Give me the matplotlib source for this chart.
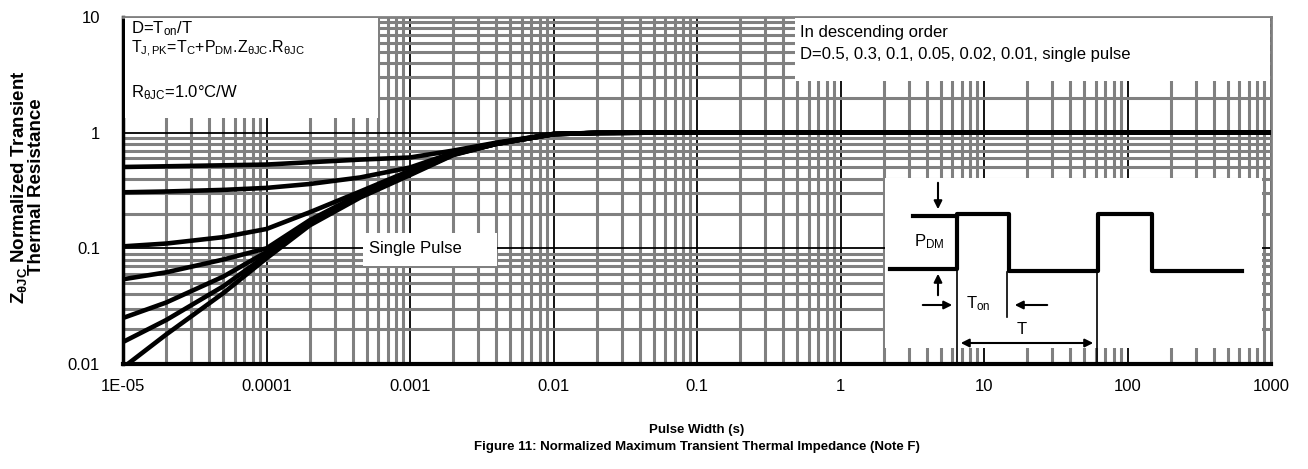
import numpy as np
import matplotlib.pyplot as plt
from matplotlib.ticker import LogLocator, FixedLocator, NullFormatter
from matplotlib.patches import Rectangle

plt.rcParams['font.family'] = ['Liberation Sans', 'DejaVu Sans']
plt.rcParams['mathtext.fontset'] = 'custom'
plt.rcParams['mathtext.rm'] = 'Liberation Sans'
plt.rcParams['mathtext.it'] = 'Liberation Sans:italic'
plt.rcParams['mathtext.bf'] = 'Liberation Sans:bold'
plt.rcParams['mathtext.default'] = 'regular'

# Pulse width (s) and normalized Z_thJC
pulse_width = [1e-5, 2e-5, 5e-5, 1e-4, 2e-4, 4.5e-4, 1e-3, 2e-3, 4e-3, 1e-2, 2e-2, 5e-2, 1e3]
z_d50 = [0.505, 0.512, 0.522, 0.53, 0.555, 0.585, 0.61, 0.70, 0.82, 0.975, 0.995, 1.0, 1.0]
z_d30 = [0.305, 0.31, 0.32, 0.333, 0.36, 0.41, 0.50, 0.67, 0.81, 0.975, 0.995, 1.0, 1.0]
z_d10 = [0.104, 0.11, 0.125, 0.147, 0.205, 0.31, 0.47, 0.67, 0.81, 0.975, 0.995, 1.0, 1.0]
z_d05 = [0.054, 0.062, 0.08, 0.10, 0.175, 0.295, 0.455, 0.66, 0.80, 0.97, 0.995, 1.0, 1.0]
z_d02 = [0.025, 0.034, 0.057, 0.093, 0.168, 0.285, 0.445, 0.65, 0.80, 0.97, 0.995, 1.0, 1.0]
z_d01 = [0.0155, 0.024, 0.047, 0.087, 0.163, 0.28, 0.44, 0.645, 0.80, 0.97, 0.995, 1.0, 1.0]
z_single = [0.0093, 0.018, 0.041, 0.082, 0.158, 0.275, 0.43, 0.64, 0.80, 0.97, 0.995, 1.0, 1.0]

x_ticks = [1e-5, 1e-4, 1e-3, 1e-2, 1e-1, 1, 10, 100, 1000]
x_ticklabels = ['1E-05', '0.0001', '0.001', '0.01', '0.1', '1', '10', '100', '1000']
y_ticks = [0.01, 0.1, 1, 10]
y_ticklabels = ['0.01', '0.1', '1', '10']

W, H = 1308, 469
fig = plt.figure(figsize=(W / 100, H / 100), dpi=100)
ax = fig.add_axes([123 / W, 1 - 364 / H, 1148 / W, 347 / H])

ax.set_xscale('log')
ax.set_yscale('log')
ax.set_xlim(1e-5, 1000)
ax.set_ylim(0.01, 10)

ax.xaxis.set_major_locator(FixedLocator(x_ticks))
ax.set_xticklabels(x_ticklabels)
ax.yaxis.set_major_locator(FixedLocator(y_ticks))
ax.set_yticklabels(y_ticklabels)
ax.xaxis.set_minor_locator(LogLocator(base=10, subs=np.arange(2, 10), numticks=20))
ax.yaxis.set_minor_locator(LogLocator(base=10, subs=np.arange(2, 10), numticks=20))
ax.xaxis.set_minor_formatter(NullFormatter())
ax.yaxis.set_minor_formatter(NullFormatter())
ax.tick_params(which='both', length=0)
ax.tick_params(axis='x', pad=11, labelsize=12)
ax.tick_params(axis='y', pad=16.5, labelsize=12)

ax.grid(which='minor', color='#808080', linewidth=2.2)
ax.grid(which='major', color='black', linewidth=1.3)

for s in ['top', 'right']:
    ax.spines[s].set_color('#808080')
    ax.spines[s].set_linewidth(2)
ax.spines['left'].set_linewidth(2.5)
ax.spines['bottom'].set_linewidth(3)

for z in [z_d50, z_d30, z_d10, z_d05, z_d02, z_d01, z_single]:
    ax.plot(pulse_width, z, color='black', linewidth=3.3, solid_capstyle='butt', zorder=4)

# overlay in pixel coordinates for boxes, notes and the pulse diagram
ov = fig.add_axes([0, 0, 1, 1])
ov.set_xlim(0, W)
ov.set_ylim(H, 0)
ov.axis('off')
ov.patch.set_alpha(0)

for (x0, y0, x1, y1) in [(125, 18, 378, 118), (795, 18, 1270, 81),
                         (885, 178, 1262, 348), (363, 233, 497, 266)]:
    ov.add_patch(Rectangle((x0, y0), x1 - x0, y1 - y0, facecolor='white', edgecolor='none'))

fs = 12
ov.text(131, 29, 'D=T$_{on}$/T', fontsize=fs, va='center')
ov.text(131, 49, 'T$_{J,PK}$=T$_C$+P$_{DM}$.Z$_{θJC}$.R$_{θJC}$', fontsize=11.5, va='center')
ov.text(131, 93, 'R$_{θJC}$=1.0°C/W', fontsize=fs, va='center')
ov.text(800, 33, 'In descending order', fontsize=fs, va='center')
ov.text(800, 55, 'D=0.5, 0.3, 0.1, 0.05, 0.02, 0.01, single pulse', fontsize=fs, va='center')
ov.text(369, 249, 'Single Pulse', fontsize=fs, va='center')

# pulse waveform
wave_x = [890, 957, 957, 1009, 1009, 1098, 1098, 1152, 1152, 1242]
wave_y = [269, 269, 214, 214, 271, 271, 214, 214, 271, 271]
ov.plot(wave_x, wave_y, color='black', linewidth=3)
ov.plot([913, 957], [216, 216], color='black', linewidth=3)
for xv, ya, yb in [(957, 270, 362), (1007, 272, 317), (1097, 270, 362)]:
    ov.plot([xv, xv], [ya, yb], color='black', linewidth=1.2)
ap = dict(arrowstyle='-|>', color='black', lw=1.5, mutation_scale=12)
ov.annotate('', xy=(938, 212), xytext=(938, 180), arrowprops=ap)
ov.annotate('', xy=(938, 271), xytext=(938, 298), arrowprops=ap)
ov.annotate('', xy=(955, 305), xytext=(920, 305), arrowprops=ap)
ov.annotate('', xy=(1012, 305), xytext=(1050, 305), arrowprops=ap)
ov.annotate('', xy=(1096, 343), xytext=(958, 343),
            arrowprops=dict(arrowstyle='<|-|>', color='black', lw=1.5, mutation_scale=12))
ov.text(914, 242, 'P$_{DM}$', fontsize=fs, va='center')
ov.text(966, 304, 'T$_{on}$', fontsize=fs, va='center')
ov.text(1022, 329, 'T', fontsize=fs, va='center', ha='center')

fig.text(27 / W, 1 - 187 / H, 'Z$_{θJC}$ Normalized Transient\nThermal Resistance',
         rotation=90, ha='center', va='center', fontsize=13.5, fontweight='bold',
         multialignment='center', linespacing=0.9)
fig.text(697 / W, 1 - 430 / H, 'Pulse Width (s)', ha='center', va='center',
         fontsize=9.5, fontweight='bold')
fig.text(697 / W, 1 - 447 / H, 'Figure 11: Normalized Maximum Transient Thermal Impedance (Note F)',
         ha='center', va='center', fontsize=9.5, fontweight='bold')

fig.savefig('out.png', dpi=100)
